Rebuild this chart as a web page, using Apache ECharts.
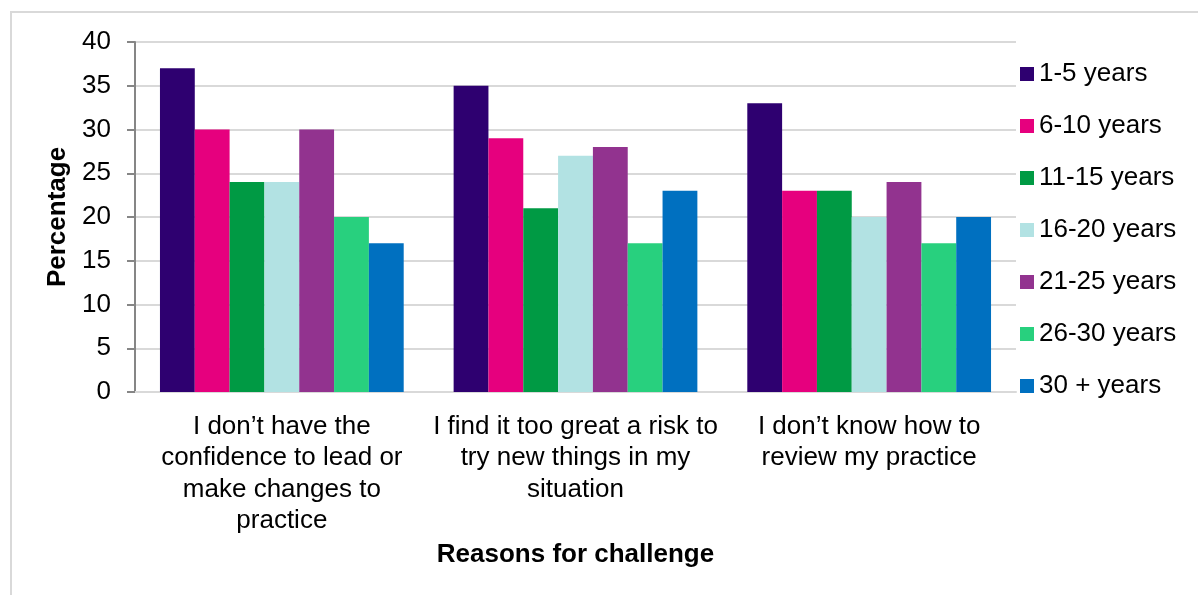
<!DOCTYPE html>
<html>
<head>
<meta charset="utf-8">
<script src="https://cdn.jsdelivr.net/npm/echarts@6/dist/echarts.min.js"></script>
<style>
html,body{margin:0;padding:0;background:#fff;}
#frame{position:absolute;left:10px;top:11px;width:1200px;height:600px;border:2px solid #d9d9d9;box-sizing:border-box;}
#chart{position:absolute;left:0;top:0;width:1198px;height:595px;}
</style>
</head>
<body>
<div id="frame"></div>
<div id="chart"></div>
<script>
const categories = [
  "I don\u2019t have the\nconfidence to lead or\nmake changes to\npractice",
  "I find it too great a risk to\ntry new things in my\nsituation",
  "I don\u2019t know how to\nreview my practice"
];
const seriesNames = ["1-5 years","6-10 years","11-15 years","16-20 years","21-25 years","26-30 years","30 + years"];
const y1to5   = [37, 35, 33];
const y6to10  = [30, 29, 23];
const y11to15 = [24, 21, 23];
const y16to20 = [24, 27, 20];
const y21to25 = [30, 28, 24];
const y26to30 = [20, 17, 17];
const y30plus = [17, 23, 20];
const colors = ["#2E0070","#E6007E","#009A44","#B2E2E3","#92338F","#28D07E","#0070C0"];
const yTicks = {min: 0, max: 40, interval: 5};
const yTitle = "Percentage";
const xTitle = "Reasons for challenge";

const values = [y1to5, y6to10, y11to15, y16to20, y21to25, y26to30, y30plus];
const font = "'Liberation Sans', Arial, sans-serif";
const chart = echarts.init(document.getElementById('chart'));
chart.setOption({
  animation: false,
  textStyle: {fontFamily: font},
  grid: {left: 135, right: 182, top: 42, bottom: 203, containLabel: false},
  legend: {
    orient: 'vertical', left: 1015, top: 56,
    itemWidth: 14, itemHeight: 14, itemGap: 26,
    icon: 'rect',
    textStyle: {fontSize: 26, color: '#000', fontFamily: font, lineHeight: 26, padding: [0,0,0,0]},
    data: seriesNames
  },
  xAxis: {
    type: 'category', data: categories,
    name: xTitle, nameLocation: 'middle', nameGap: 148,
    nameTextStyle: {fontSize: 26, fontWeight: 'bold', color: '#000', fontFamily: font},
    axisLine: {lineStyle: {color: '#d9d9d9', width: 2}},
    axisTick: {show: false},
    axisLabel: {fontSize: 26, color: '#000', lineHeight: 31.5, margin: 19, interval: 0, fontFamily: font}
  },
  yAxis: {
    type: 'value', min: yTicks.min, max: yTicks.max, interval: yTicks.interval,
    name: yTitle, nameLocation: 'middle', nameGap: 60,
    nameTextStyle: {fontSize: 26, fontWeight: 'bold', color: '#000', fontFamily: font},
    axisLine: {show: true, lineStyle: {color: '#868686', width: 2}},
    axisTick: {show: true, length: 8, lineStyle: {color: '#868686', width: 2}},
    axisLabel: {fontSize: 26, color: '#000', margin: 24, fontFamily: font},
    splitLine: {lineStyle: {color: '#d9d9d9', width: 2}}
  },
  series: seriesNames.map((n, i) => ({
    name: n, type: 'bar', data: values[i],
    barGap: '0%', barCategoryGap: '17%',
    itemStyle: {color: colors[i]}
  }))
});
</script>
</body>
</html>
